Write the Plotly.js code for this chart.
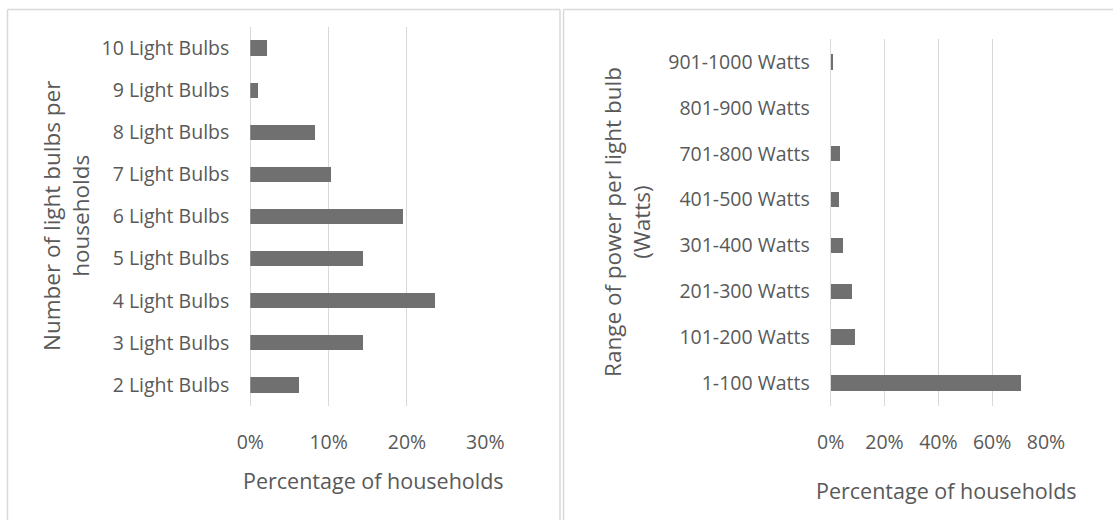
<!DOCTYPE html>
<html>
<head>
<meta charset="utf-8">
<script src="https://cdn.plot.ly/plotly-3.0.1.min.js"></script>
<style>html,body{margin:0;padding:0;background:#fff;}#chart{width:1113px;height:520px;}</style>
</head>
<body>
<div id="chart"></div>
<script>
// Left chart: number of light bulbs per household
const bulbCategories = ["2 Light Bulbs","3 Light Bulbs","4 Light Bulbs","5 Light Bulbs","6 Light Bulbs","7 Light Bulbs","8 Light Bulbs","9 Light Bulbs","10 Light Bulbs"];
const bulbShares = [6.2, 14.4, 23.6, 14.4, 19.5, 10.3, 8.2, 1.0, 2.1];
const bulbTicks = [0, 10, 20, 30];
const bulbTickLabels = ["0%", "10%", "20%", "30%"];

// Right chart: range of power per light bulb
const wattCategories = ["1-100 Watts","101-200 Watts","201-300 Watts","301-400 Watts","401-500 Watts","701-800 Watts","801-900 Watts","901-1000 Watts"];
const wattShares = [70.8, 8.9, 7.8, 4.5, 3.2, 3.3, 0, 0.7];
const wattTicks = [0, 20, 40, 60, 80];
const wattTickLabels = ["0%", "20%", "40%", "60%", "80%"];

const W = 1113, H = 520;
const px = v => v / W;
const py = v => 1 - v / H;
const FONT = "Open Sans, DejaVu Sans, sans-serif";
const TXT = "#595959";
const GRID = "#d9d9d9";
const BAR = "#707070";

const traces = [
  {type: "bar", orientation: "h", x: bulbShares, y: bulbCategories, xaxis: "x", yaxis: "y",
   marker: {color: BAR}, width: 0.36, hoverinfo: "x+y"},
  {type: "bar", orientation: "h", x: wattShares, y: wattCategories, xaxis: "x2", yaxis: "y2",
   marker: {color: BAR}, width: 0.34, hoverinfo: "x+y"}
];

const xBase = {
  showgrid: true, gridcolor: GRID, gridwidth: 1, zeroline: true, zerolinecolor: GRID, zerolinewidth: 1,
  showline: false, ticks: "", tickmode: "array", tickfont: {family: FONT, size: 19.5, color: TXT},
  ticklabelstandoff: 22, fixedrange: true
};
const yBase = {
  showgrid: false, showline: false, ticks: "", type: "category",
  tickfont: {family: FONT, size: 19.5, color: TXT}, ticklabelstandoff: 20, fixedrange: true
};

const layout = {
  width: W, height: H, margin: {l: 0, r: 0, t: 0, b: 0},
  paper_bgcolor: "#fff", plot_bgcolor: "rgba(0,0,0,0)", showlegend: false, bargap: 0,
  font: {family: FONT, color: TXT},
  xaxis: Object.assign({}, xBase, {domain: [px(250.3), px(485.3)], range: [0, 30], tickvals: bulbTicks, ticktext: bulbTickLabels, anchor: "y"}),
  yaxis: Object.assign({}, yBase, {domain: [py(406), py(27)], anchor: "x", categoryorder: "array", categoryarray: bulbCategories}),
  xaxis2: Object.assign({}, xBase, {domain: [px(830.7), px(1046)], range: [0, 80], tickvals: wattTicks, ticktext: wattTickLabels, anchor: "y2"}),
  yaxis2: Object.assign({}, yBase, {domain: [py(406), py(39)], anchor: "x2", categoryorder: "array", categoryarray: wattCategories}),
  shapes: [
    {type: "line", xref: "paper", yref: "paper", x0: px(7.5), x1: px(7.5), y0: py(9.5), y1: 0, line: {color: GRID, width: 1.5}},
    {type: "line", xref: "paper", yref: "paper", x0: px(7.5), x1: px(560), y0: py(9.5), y1: py(9.5), line: {color: GRID, width: 1.5}},
    {type: "line", xref: "paper", yref: "paper", x0: px(560), x1: px(560), y0: py(9.5), y1: 0, line: {color: GRID, width: 1.5}},
    {type: "line", xref: "paper", yref: "paper", x0: px(563.5), x1: px(563.5), y0: py(9.5), y1: 0, line: {color: GRID, width: 1.5}},
    {type: "line", xref: "paper", yref: "paper", x0: px(563.5), x1: 1, y0: py(9.5), y1: py(9.5), line: {color: GRID, width: 1.5}}
  ],
  annotations: [
    {xref: "paper", yref: "paper", x: px(374), y: py(480), text: "Percentage of households", showarrow: false,
     xanchor: "center", yanchor: "middle", font: {family: FONT, size: 21.5, color: TXT}},
    {xref: "paper", yref: "paper", x: px(946), y: py(490), text: "Percentage of households", showarrow: false,
     xanchor: "center", yanchor: "middle", font: {family: FONT, size: 21.5, color: TXT}},
    {xref: "paper", yref: "paper", x: px(66), y: py(216), text: "Number of light bulbs per<br>households", showarrow: false,
     textangle: -90, xanchor: "center", yanchor: "middle", align: "center", font: {family: FONT, size: 22.5, color: TXT}},
    {xref: "paper", yref: "paper", x: px(627), y: py(222), text: "Range of power per light bulb<br>(Watts)", showarrow: false,
     textangle: -90, xanchor: "center", yanchor: "middle", align: "center", font: {family: FONT, size: 22.5, color: TXT}}
  ]
};

Plotly.newPlot("chart", traces, layout, {displayModeBar: false, staticPlot: true});
</script>
</body>
</html>
